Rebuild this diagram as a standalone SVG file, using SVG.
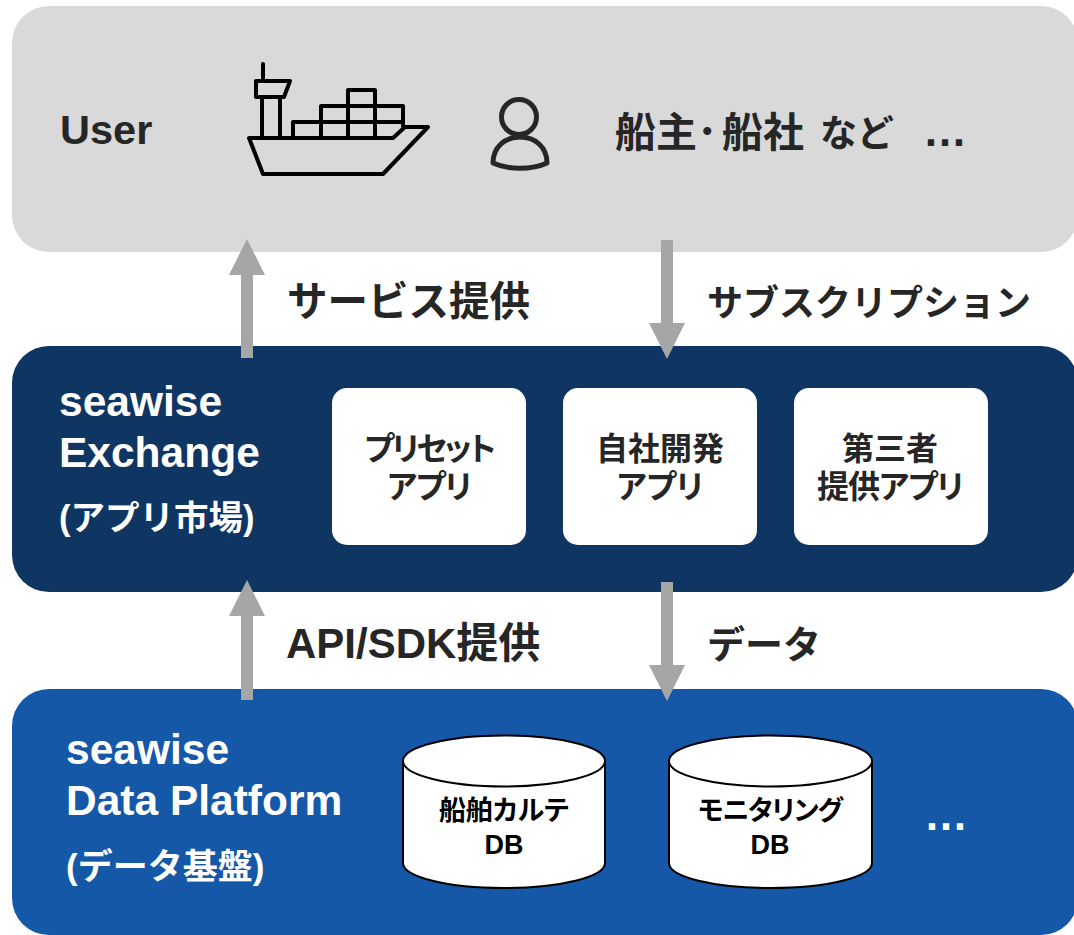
<svg xmlns="http://www.w3.org/2000/svg" width="1074" height="935" viewBox="0 0 1074 935">
<style>
text{font-family:"Liberation Sans","Noto Sans CJK JP",sans-serif;font-weight:700}
.w{fill:#fff}.k{fill:#262626}
.l{font-size:42.500px}.lab{font-size:40.500px;fill:#262626}
.a{font-size:32px;fill:#262626;text-anchor:middle;font-feature-settings:"palt"}
.d{font-size:27px;fill:#000;text-anchor:middle;font-feature-settings:"palt"}
.conn{stroke:#a6a6a6;stroke-width:12;fill:none;marker-end:url(#ah)}
.ico{fill:none;stroke:#000;stroke-width:4;stroke-linejoin:round;stroke-linecap:round}
.per{fill:none;stroke:#262626;stroke-width:5;stroke-linejoin:round}
.db{fill:#fff;stroke:#000;stroke-width:2}
.app{fill:#fff}
</style>
<defs>
<marker id="ah" markerUnits="userSpaceOnUse" markerWidth="36" markerHeight="36" viewBox="0 0 36 36" refX="0" refY="18" orient="auto">
<path d="M0 0L36 18L0 36Z" fill="#a6a6a6"/>
</marker>
</defs>
<rect width="1074" height="935" fill="#fff"/>
<g id="user">
<rect x="12" y="6" width="1066" height="246" rx="37" fill="#d9d9d9"/>
<text class="k" x="60" y="144" font-size="41.500">User</text>
<g class="ico">
<path d="M263 64V81M256 81H290L284 97H256ZM262 97V138M280 97V138"/>
<path d="M249 138H393L405 127H428L383 174H263Z"/>
<path d="M293 138V122H403V106H321V138M348 138V90H375V138M321 122V106M403 106V126"/>
</g>
<g class="per">
<circle cx="519" cy="117" r="17.500"/>
<path d="M493 163C493 147 505 137 520 137C535 137 547 147 547 163C532 170 508 170 493 163Z"/>
</g>
<text class="k" y="147" font-size="41"><tspan x="615">船主</tspan><tspan x="697">･</tspan><tspan x="722">船社</tspan><tspan x="820" font-size="37">など</tspan></text>
<text class="k" x="923" y="146" font-size="44">…</text>
</g>
<g id="exchange">
<rect x="12" y="346" width="1066" height="246" rx="37" fill="#0f3663"/>
<text class="l w" x="59" y="416">seawise</text>
<text class="l w" x="59" y="467">Exchange</text>
<text class="w" x="59" y="530" font-size="34.500">(アプリ市場)</text>
</g>
<g id="app1"><rect class="app" x="332" y="388" width="194" height="157" rx="15"/>
<text class="a" x="429" y="460" letter-spacing="-2.500">プリセット</text><text class="a" x="429" y="498" letter-spacing="-1">アプリ</text></g>
<g id="app2"><rect class="app" x="563" y="388" width="194" height="157" rx="15"/>
<text class="a" x="660" y="460">自社開発</text><text class="a" x="660" y="498">アプリ</text></g>
<g id="app3"><rect class="app" x="794" y="388" width="194" height="157" rx="15"/>
<text class="a" x="890" y="460">第三者</text><text class="a" x="890" y="498" letter-spacing="-1">提供アプリ</text></g>
<g id="platform">
<rect x="12" y="689" width="1066" height="246" rx="37" fill="#1558a8"/>
<text class="l w" x="66" y="764">seawise</text>
<text class="l w" x="66" y="815">Data Platform</text>
<text class="w" x="66" y="879" font-size="35">(データ基盤)</text>
<text class="w" x="924" y="830" font-size="44">…</text>
</g>
<g id="db1">
<path class="db" d="M403 761V863C403 877 448 888 504 888S605 877 605 863V761"/>
<ellipse class="db" cx="504" cy="761" rx="101" ry="25.500"/>
<text class="d" x="504" y="820">船舶カルテ</text><text class="d" x="504" y="854">DB</text>
</g>
<g id="db2">
<path class="db" d="M669 761V863C669 877 714 888 770.500 888S872 877 872 863V761"/>
<ellipse class="db" cx="770.500" cy="761" rx="101.500" ry="25.500"/>
<text class="d" x="770" y="820" letter-spacing="-1">モニタリング</text><text class="d" x="770" y="854">DB</text>
</g>
<g id="connectors">
<line class="conn" x1="247" y1="358" x2="247" y2="275"/>
<line class="conn" x1="667" y1="240" x2="667" y2="323"/>
<line class="conn" x1="247" y1="700" x2="247" y2="616"/>
<line class="conn" x1="667" y1="582" x2="667" y2="665"/>
</g>
<g id="labels">
<text class="lab" x="287" y="316">サービス提供</text>
<text class="lab" x="707" y="316" style="font-size:36px">サブスクリプション</text>
<text class="lab" x="286" y="658" style="font-size:42px">API/SDK提供</text>
<text class="lab" x="707" y="658" style="font-size:38px">データ</text>
</g>
</svg>
